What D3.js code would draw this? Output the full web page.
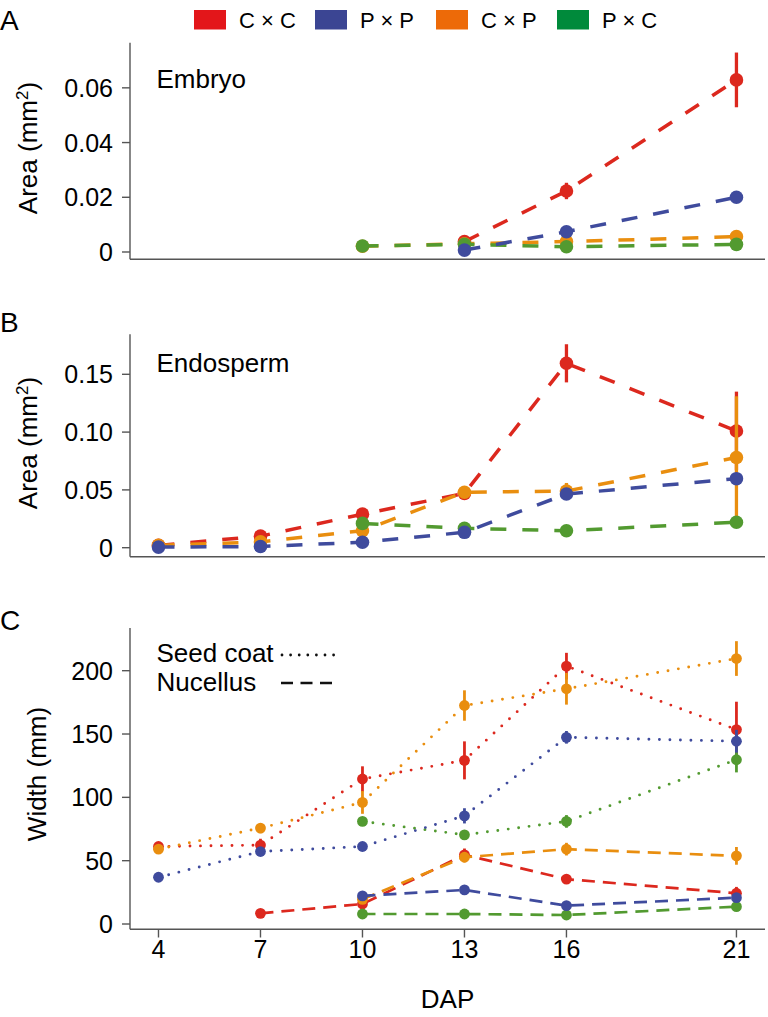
<!DOCTYPE html>
<html>
<head>
<meta charset="utf-8">
<script src="https://cdn.jsdelivr.net/npm/d3@7"></script>
<style>
  html, body { margin: 0; padding: 0; background: #fff; }
  svg { display: block; }
  text { font-family: "Liberation Sans", Arial, Helvetica, sans-serif; fill: #000; }
</style>
</head>
<body>
<svg id="chart" width="768" height="1017"></svg>
<script>
// ---------------- DATA ----------------
const days = [4, 7, 10, 13, 16, 21];
const crosses = ["C × C", "P × P", "C × P", "P × C"];
const legendColors = ["#e3161a", "#3b4593", "#ed6a08", "#008a3b"];
const lineColors = ["#dc281e", "#3f4b9d", "#e98e0f", "#529a30"];

// Panel A: Embryo area (mm^2)
const embryoCC = [null, null, null, 0.0038, 0.0223, 0.0629];
const embryoPP = [null, null, null, 0.0007, 0.0074, 0.0200];
const embryoCP = [null, null, 0.0021, 0.0030, 0.0038, 0.0056];
const embryoPC = [null, null, 0.0022, 0.0028, 0.0019, 0.0028];
const embryoErrCC = [0, 0, 0, 0.0006, 0.0030, 0.0100];
const embryoErrPP = [0, 0, 0, 0.0003, 0.0008, 0.0010];
const embryoErrCP = [0, 0, 0, 0.0003, 0.0004, 0.0006];
const embryoErrPC = [0, 0, 0, 0.0003, 0.0003, 0.0004];

// Panel B: Endosperm area (mm^2)
const endoCC = [0.0020, 0.0100, 0.0290, 0.0470, 0.1595, 0.1010];
const endoPP = [0.0005, 0.0010, 0.0047, 0.0133, 0.0464, 0.0597];
const endoCP = [0.0020, 0.0050, 0.0147, 0.0480, 0.0490, 0.0780];
const endoPC = [null, null, 0.0210, 0.0168, 0.0147, 0.0220];
const endoErrCC = [0, 0.001, 0.002, 0.002, 0.0165, 0.034];
const endoErrPP = [0, 0, 0.001, 0.002, 0.003, 0.004];
const endoErrCP = [0, 0, 0.001, 0.003, 0.007, 0.053];
const endoErrPC = [0, 0, 0.002, 0.001, 0.001, 0.002];

// Panel C: Seed coat width (dotted)
const coatCC = [61.2, 62.3, 114.5, 129.2, 203.6, 153.5];
const coatPP = [36.9, 57.2, 61.2, 85.4, 147.4, 144.3];
const coatCP = [59.1, 75.7, 96.0, 172.5, 185.7, 209.6];
const coatPC = [null, null, 81.0, 70.4, 81.0, 129.7];
const coatErrCC = [2, 5, 10, 15, 10.5, 22];
const coatErrPP = [1, 2, 2, 6, 5, 9];
const coatErrCP = [2, 4, 9, 12, 12.5, 13.7];
const coatErrPC = [0, 0, 2, 2, 5, 10];

// Panel C: Nucellus width (dashed)
const nucCC = [null, 8.4, 15.8, 54.6, 35.4, 24.3];
const nucPP = [null, null, 22.2, 26.9, 14.5, 20.8];
const nucCP = [null, null, 19.5, 52.7, 59.1, 53.8];
const nucPC = [null, null, 7.9, 7.9, 7.1, 13.7];
const nucErrCC = [0, 1, 2, 5, 2, 5];
const nucErrPP = [0, 0, 1, 2, 2, 3];
const nucErrCP = [0, 0, 2, 4, 5, 7];
const nucErrPC = [0, 0, 1, 1, 1, 2];

const ticksA = [0, 0.02, 0.04, 0.06];
const tickLabelsA = ["0", "0.02", "0.04", "0.06"];
const ticksB = [0, 0.05, 0.10, 0.15];
const tickLabelsB = ["0", "0.05", "0.10", "0.15"];
const ticksC = [0, 50, 100, 150, 200];
const tickLabelsC = ["0", "50", "100", "150", "200"];
const xTicks = [4, 7, 10, 13, 16, 21];

// ---------------- DRAWING ----------------
const svg = d3.select("#chart");
const axisColor = "#555";
const x = d3.scaleLinear().domain([3.162, 21.84]).range([130, 765]);

function build(vals, errs) {
  return days.map((d, i) => ({ d: d, v: vals[i], e: errs[i] })).filter(p => p.v !== null);
}

function yAxis(y, ticks, labels, fontSize) {
  const g = svg.append("g");
  const r = y.range();
  g.append("line").attr("x1", 130).attr("x2", 130).attr("y1", r[0]).attr("y2", r[1])
    .attr("stroke", axisColor).attr("stroke-width", 1.4);
  g.append("line").attr("x1", 130).attr("x2", 765).attr("y1", r[0]).attr("y2", r[0])
    .attr("stroke", axisColor).attr("stroke-width", 1.4);
  ticks.forEach((t, i) => {
    g.append("line").attr("x1", 122).attr("x2", 130).attr("y1", y(t)).attr("y2", y(t))
      .attr("stroke", axisColor).attr("stroke-width", 1.4);
    g.append("text").attr("x", 113).attr("y", y(t)).attr("dy", "0.36em")
      .attr("text-anchor", "end").attr("font-size", fontSize).text(labels[i]);
  });
}

function series(y, data, color, opts) {
  const g = svg.append("g");
  const line = d3.line().x(p => x(p.d)).y(p => y(p.v));
  g.append("path").attr("d", line(data)).attr("fill", "none")
    .attr("stroke", color).attr("stroke-width", opts.lw)
    .attr("stroke-dasharray", opts.dash)
    .attr("stroke-linecap", opts.cap || "butt");
  data.forEach(p => {
    if (p.e > 0) {
      g.append("line").attr("x1", x(p.d)).attr("x2", x(p.d))
        .attr("y1", y(p.v - p.e)).attr("y2", y(p.v + p.e))
        .attr("stroke", color).attr("stroke-width", opts.ew);
    }
  });
  g.selectAll("circle.pt").data(data).enter().append("circle")
    .attr("cx", p => x(p.d)).attr("cy", p => y(p.v)).attr("r", opts.r)
    .attr("fill", color);
}

// drawing order: C×C, C×P, P×C, P×P (later ones on top)
const order = [0, 2, 3, 1];

// Panel A
const yA = d3.scaleLinear().domain([-0.00267, 0.0765]).range([259.3, 42.7]);
yAxis(yA, ticksA, tickLabelsA, 25);
const optAB = { lw: 3.5, dash: "16,16", ew: 3.3, r: 6.8 };
const embryoSets = [[embryoCC, embryoErrCC], [embryoPP, embryoErrPP], [embryoCP, embryoErrCP], [embryoPC, embryoErrPC]];
order.forEach(k => series(yA, build(embryoSets[k][0], embryoSets[k][1]), lineColors[k], optAB));

// Panel B
const yB = d3.scaleLinear().domain([-0.00779, 0.1846]).range([556.7, 334.3]);
yAxis(yB, ticksB, tickLabelsB, 25);
const endoSets = [[endoCC, endoErrCC], [endoPP, endoErrPP], [endoCP, endoErrCP], [endoPC, endoErrPC]];
order.forEach(k => series(yB, build(endoSets[k][0], endoSets[k][1]), lineColors[k], optAB));

// Panel C
const yC = d3.scaleLinear().domain([-4.18, 233.7]).range([929.3, 628]);
yAxis(yC, ticksC, tickLabelsC, 25);
xTicks.forEach(t => {
  svg.append("line").attr("x1", x(t)).attr("x2", x(t)).attr("y1", 929.3).attr("y2", 937.5)
    .attr("stroke", axisColor).attr("stroke-width", 1.4);
  svg.append("text").attr("x", x(t)).attr("y", 958).attr("text-anchor", "middle")
    .attr("font-size", 25).text(t);
});
const nucSets = [[nucCC, nucErrCC], [nucPP, nucErrPP], [nucCP, nucErrCP], [nucPC, nucErrPC]];
const coatSets = [[coatCC, coatErrCC], [coatPP, coatErrPP], [coatCP, coatErrCP], [coatPC, coatErrPC]];
const optNuc = { lw: 2.7, dash: "13,8", ew: 2.8, r: 5.4 };
const optCoat = { lw: 2.9, dash: "0,10.5", cap: "round", ew: 2.8, r: 5.4 };
order.forEach(k => series(yC, build(nucSets[k][0], nucSets[k][1]), lineColors[k], optNuc));
order.forEach(k => series(yC, build(coatSets[k][0], coatSets[k][1]), lineColors[k], optCoat));

// Axis titles
function yTitle(cx, cy, main, sup, close) {
  const t = svg.append("text").attr("transform", `translate(${cx},${cy}) rotate(-90)`)
    .attr("text-anchor", "middle").attr("font-size", 26);
  t.append("tspan").text(main);
  if (sup) t.append("tspan").attr("font-size", 17).attr("baseline-shift", "9").text(sup);
  if (close) t.append("tspan").text(close);
}
yTitle(37, 148, "Area (mm", "2", ")");
yTitle(37, 443, "Area (mm", "2", ")");
yTitle(46, 774, "Width (mm)", null, null);
svg.append("text").attr("x", 447.5).attr("y", 1008).attr("text-anchor", "middle")
  .attr("font-size", 26).text("DAP");

// Panel letters
[["A", 30], ["B", 332], ["C", 630]].forEach(([l, yy]) => {
  svg.append("text").attr("x", 0).attr("y", yy).attr("font-size", 28).text(l);
});

// Panel titles
svg.append("text").attr("x", 156.5).attr("y", 88.3).attr("font-size", 26).text("Embryo");
svg.append("text").attr("x", 156.5).attr("y", 371.7).attr("font-size", 26).text("Endosperm");

// Panel C line-type legend
svg.append("text").attr("x", 156.5).attr("y", 662.3).attr("font-size", 26).text("Seed coat");
svg.append("text").attr("x", 156.5).attr("y", 690.7).attr("font-size", 26).text("Nucellus");
svg.append("line").attr("x1", 282).attr("x2", 334).attr("y1", 655).attr("y2", 655)
  .attr("stroke", "#111").attr("stroke-width", 2.8).attr("stroke-linecap", "round")
  .attr("stroke-dasharray", "0,8.6");
svg.append("line").attr("x1", 281).attr("x2", 332).attr("y1", 683).attr("y2", 683)
  .attr("stroke", "#111").attr("stroke-width", 2.5).attr("stroke-dasharray", "12,7.5");

// Top colour legend
const legX = [194, 315, 436, 557];
crosses.forEach((c, i) => {
  svg.append("rect").attr("x", legX[i]).attr("y", 10).attr("width", 32).attr("height", 19.5)
    .attr("fill", legendColors[i]);
  svg.append("text").attr("x", legX[i] + 45).attr("y", 28.3).attr("font-size", 22).text(c);
});
</script>
</body>
</html>
